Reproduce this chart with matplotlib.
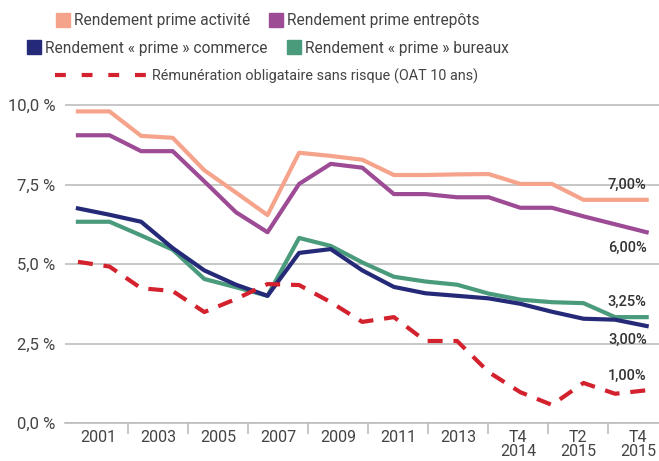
import matplotlib.pyplot as plt
from matplotlib.lines import Line2D
import numpy as np

plt.rcParams['font.family'] = ['Roboto', 'DejaVu Sans']

# 19 periods, evenly spaced on the chart
periods = np.arange(19)
activite = [9.8, 9.8, 9.03, 8.97, 7.95, 7.25, 6.54, 8.5, 8.4, 8.28, 7.8, 7.8, 7.82, 7.83, 7.52, 7.52, 7.02, 7.02, 7.02]
entrepots = [9.05, 9.05, 8.55, 8.55, 7.6, 6.63, 6.0, 7.52, 8.15, 8.03, 7.2, 7.2, 7.1, 7.1, 6.77, 6.77, 6.5, 6.25, 6.0]
commerce = [6.75, 6.55, 6.33, 5.5, 4.8, 4.35, 4.0, 5.35, 5.47, 4.8, 4.28, 4.08, 4.0, 3.92, 3.75, 3.5, 3.28, 3.25, 3.05]
bureaux = [6.33, 6.33, 5.9, 5.45, 4.53, 4.27, 4.0, 5.82, 5.57, 5.05, 4.6, 4.45, 4.35, 4.07, 3.88, 3.8, 3.77, 3.33, 3.33]
oat = [5.07, 4.92, 4.24, 4.15, 3.49, 3.9, 4.37, 4.34, 3.8, 3.18, 3.33, 2.58, 2.58, 1.6, 0.97, 0.57, 1.26, 0.92, 1.03]

cat_labels = ['2001', '2003', '2005', '2007', '2009', '2011', '2013', 'T4\n2014', 'T2\n2015', 'T4\n2015']
end_labels = {'activite': '7,00%', 'entrepots': '6,00%', 'bureaux': '3,25%', 'commerce': '3,00%', 'oat': '1,00%'}

c_act = '#F6A38C'
c_ent = '#9C4B94'
c_com = '#252A78'
c_bur = '#4A9A7C'
c_oat = '#D3222E'
txt = '#444444'

fig = plt.figure(figsize=(6.59, 4.61), dpi=100)
ax = fig.add_axes([0.0986, 0.0824, 0.9014, 0.7104])

lw = 3.0
dash = (3.6, 2.6)
ax.plot(periods, activite, c=c_act, lw=lw)
ax.plot(periods, entrepots, c=c_ent, lw=lw)
ax.plot(periods, bureaux, c=c_bur, lw=lw)
ax.plot(periods, commerce, c=c_com, lw=lw)
ax.plot(periods, oat, c=c_oat, lw=lw, dashes=dash)

ax.set_xlim(-0.41, 18.39)
ax.set_ylim(0, 10.3)

# grid
ax.set_yticks([0, 2.5, 5, 7.5, 10])
ax.set_yticklabels(['0,0 %', '2,5 %', '5,0 %', '7,5 %', '10,0 %'], fontsize=12, color=txt)
ax.tick_params(axis='y', length=0, pad=7)
ax.grid(axis='y', color='#bdbdbd', lw=1.2)
ax.set_axisbelow(True)
for s in ['top', 'right', 'left']:
    ax.spines[s].set_visible(False)
ax.spines['bottom'].set_color('#bdbdbd')
ax.spines['bottom'].set_linewidth(1.2)

# category axis: groups of 60 px, point spacing 31.6 px
grp = 60 / 31.6
first_sep = 50 / 31.6
seps = [first_sep + grp * k for k in range(9)]
centers = [first_sep - grp / 2 + grp * k for k in range(10)]
ax.set_xticks(seps)
ax.set_xticklabels([])
ax.tick_params(axis='x', which='major', direction='out', length=8, width=1.2, color='#bdbdbd')
ax.set_xticks(centers, minor=True)
ax.set_xticklabels(cat_labels, minor=True, fontsize=11.5, color=txt, linespacing=0.95)
ax.tick_params(axis='x', which='minor', length=0, pad=5)

# end labels
kw = dict(ha='right', fontsize=10.5, fontweight='medium', color='#333333', textcoords='offset points')
ax.annotate(end_labels['activite'], (18, activite[-1]), xytext=(0, 6), va='bottom', **kw)
ax.annotate(end_labels['entrepots'], (18, entrepots[-1]), xytext=(0, -6), va='top', **kw)
ax.annotate(end_labels['bureaux'], (18, bureaux[-1]), xytext=(0, 6), va='bottom', **kw)
ax.annotate(end_labels['commerce'], (18, commerce[-1]), xytext=(0, -5), va='top', **kw)
ax.annotate(end_labels['oat'], (18, oat[-1]), xytext=(0, 5), va='bottom', **kw)

# legend, three centred rows
def sq(c):
    return Line2D([], [], marker='s', ls='', ms=10, color=c)

lkw = dict(frameon=False, labelcolor=txt, handletextpad=0.3,
           columnspacing=1.3, loc='center')
fig.legend([sq(c_act), sq(c_ent)], ['Rendement prime activité', 'Rendement prime entrepôts'],
           ncol=2, bbox_to_anchor=(0.407, 1 - 21 / 461), handlelength=0.8, fontsize=11.2, **lkw)
fig.legend([sq(c_com), sq(c_bur)], ['Rendement « prime » commerce', 'Rendement « prime » bureaux'],
           ncol=2, bbox_to_anchor=(0.407, 1 - 48 / 461), handlelength=0.8, fontsize=11.2, **lkw)
fig.legend([Line2D([], [], c=c_oat, lw=lw, dashes=(2.6, 3.8))],
           ['Rémunération obligataire sans risque (OAT 10 ans)'],
           bbox_to_anchor=(0.404, 1 - 76 / 461), handlelength=6.4, fontsize=10.4, **lkw)

fig.savefig('out.png', dpi=100)
